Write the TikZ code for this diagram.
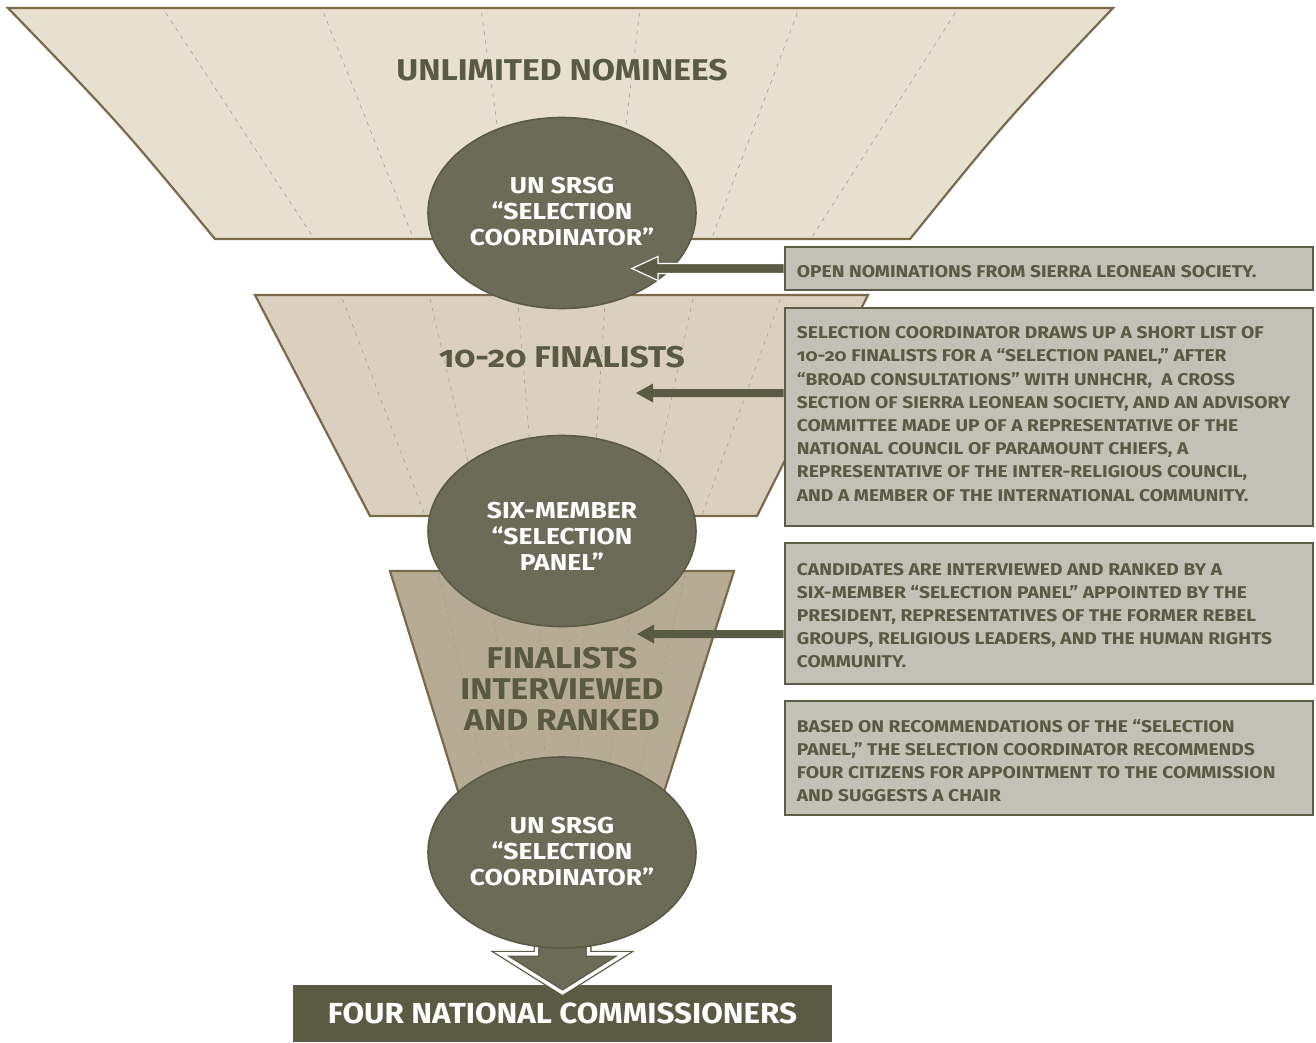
\documentclass[tikz,border=0pt]{standalone}
\usepackage{fontspec}
\setmainfont{Fira Sans}[Numbers=OldStyle]
\newfontfamily\stagefont{Fira Sans}[Numbers=OldStyle,FakeStretch=1.12]
\newfontfamily\ovalfont{Fira Sans}[Numbers=OldStyle,FakeStretch=1.15]
\newfontfamily\finalfont{Fira Sans}[Numbers=OldStyle,FakeStretch=1.08]
\newfontfamily\notefont{Fira Sans}[Numbers=OldStyle,FakeStretch=1.13]
\usetikzlibrary{shapes.geometric,calc}
\definecolor{trapA}{HTML}{E7DFD0}
\definecolor{trapB}{HTML}{D9D0C0}
\definecolor{trapC}{HTML}{B6AB94}
\definecolor{trapline}{HTML}{7B6A48}
\definecolor{guidec}{HTML}{A9A49C}
\definecolor{guidecC}{HTML}{A39EA6}
\definecolor{ovalfill}{HTML}{6B6B57}
\definecolor{ovalline}{HTML}{5A5B45}
\definecolor{olivetext}{HTML}{585A43}
\definecolor{boxfill}{HTML}{C3C0B5}
\definecolor{boxline}{HTML}{5C5D47}
\definecolor{arrowc}{HTML}{5A5B45}
\definecolor{finalfill}{HTML}{5A5B42}
\begin{document}
\begin{tikzpicture}[x=1pt,y=-1pt,
  trap/.style={draw=trapline,line width=2.2pt,line join=miter},
  guide/.style={draw=guidec,line width=0.7pt,dash pattern=on 4pt off 5pt},
  guideC/.style={draw=guidecC,line width=0.7pt,dash pattern=on 4pt off 5pt},
  oval/.style={ellipse,fill=ovalfill,draw=ovalline,line width=1.6pt,minimum width=268pt,minimum height=191pt,inner sep=0pt},
  ovaltext/.style={text=white,font=\ovalfont\bfseries\fontsize{23}{26}\selectfont,align=center,inner sep=0pt},
  stage/.style={text=olivetext,font=\stagefont\bfseries\fontsize{30}{31}\selectfont,align=center,inner sep=0pt},
  notebox/.style={draw=boxline,fill=boxfill,line width=2.6pt,minimum width=528pt,inner sep=0pt},
  notetext/.style={text=olivetext,font=\notefont\bfseries\fontsize{17}{23.2}\selectfont,align=left,inner sep=0pt,anchor=west},
  finalbox/.style={fill=finalfill,minimum width=539pt,minimum height=57pt,inner sep=0pt,text=white,font=\finalfont\bfseries\fontsize{29}{30}\selectfont}
]
\useasboundingbox (0,0) rectangle (1316,1042);

% stage 1 funnel
\path[trap,fill=trapA] (8,8) -- (1113,8) .. controls (1003.5,123.5) .. (910,239) -- (215,239) .. controls (119.5,123.5) .. (8,8) -- cycle;
\foreach \i in {1,...,6} \draw[guide] ({8+\i*157.86},13) -- ({215+\i*99.29},239);
% stage 2 funnel
\path[trap,fill=trapB] (255,295) -- (868,295) -- (757,516) -- (370,516) -- cycle;
\foreach \i in {1,...,6} \draw[guide] ({255+\i*87.57},299) -- ({370+\i*55.29},516);
% stage 3 funnel
\path[trap,fill=trapC] (390,571) -- (734,571) -- (652,830) -- (470,830) -- cycle;
\foreach \i in {1,...,6} \draw[guideC] ({390+\i*49.14},575) -- ({470+\i*26},830);

% stage titles
\node[stage] (s1) at (562,70) {UNLIMITED NOMINEES};
\node[stage] (s2) at (562,357) {10-20 FINALISTS};
\node[stage] (s3) at (562,689) {FINALISTS\\INTERVIEWED\\AND RANKED};

% final box and arrow
\node[finalbox] (fb) at (562.5,1013.5) {FOUR NATIONAL COMMISSIONERS};
\coordinate (dtip) at ($(fb.north)+(0,8)$);
\path[fill=ovalfill,draw=arrowc,line width=6pt,line join=miter,postaction={draw=white,line width=3.4pt,line join=miter}]
  (dtip) -- ++(-62,-39) -- ++(36,0) -- ++(0,-32) -- ++(52,0) -- ++(0,32) -- ++(36,0) -- cycle;

% ovals
\node[oval] (e1) at (562,213) {};
\node[ovaltext] (t1) at ($(e1.center)+(0,-1)$) {UN SRSG\\“SELECTION\\COORDINATOR”};
\node[oval] (e2) at (562,531) {};
\node[ovaltext] (t2) at ($(e2.center)+(0,5)$) {SIX-MEMBER\\“SELECTION\\PANEL”};
\node[oval] (e3) at (562,852.5) {};
\node[ovaltext] (t3) at ($(e3.center)+(0,-1)$) {UN SRSG\\“SELECTION\\COORDINATOR”};

% note boxes
\node[notebox,minimum height=43pt] (b1) at (1049,268.5) {};
\node[notetext] (n1) at ($(b1.west)+(13,3.5)$) {OPEN NOMINATIONS FROM SIERRA LEONEAN SOCIETY.};
\node[notebox,minimum height=218pt] (b2) at (1049,417) {};
\node[notetext] (n2) at ($(b2.west)+(13,-3)$) {SELECTION COORDINATOR DRAWS UP A SHORT LIST OF\\
10-20 FINALISTS FOR A “SELECTION PANEL,” AFTER\\
“BROAD CONSULTATIONS” WITH UNHCHR,~ A CROSS\\
SECTION OF SIERRA LEONEAN SOCIETY, AND AN ADVISORY\\
COMMITTEE MADE UP OF A REPRESENTATIVE OF THE\\
NATIONAL COUNCIL OF PARAMOUNT CHIEFS, A\\
REPRESENTATIVE OF THE INTER-RELIGIOUS COUNCIL,\\
AND A MEMBER OF THE INTERNATIONAL COMMUNITY.};
\node[notebox,minimum height=141pt] (b3) at (1049,613.5) {};
\node[notetext] (n3) at ($(b3.west)+(13,2)$) {CANDIDATES ARE INTERVIEWED AND RANKED BY A\\
SIX-MEMBER “SELECTION PANEL” APPOINTED BY THE\\
PRESIDENT, REPRESENTATIVES OF THE FORMER REBEL\\
GROUPS, RELIGIOUS LEADERS, AND THE HUMAN RIGHTS\\
COMMUNITY.};
\node[notebox,minimum height=114pt] (b4) at (1049,758) {};
\node[notetext] (n4) at ($(b4.west)+(13,2.5)$) {BASED ON RECOMMENDATIONS OF THE “SELECTION\\
PANEL,” THE SELECTION COORDINATOR RECOMMENDS\\
FOUR CITIZENS FOR APPOINTMENT TO THE COMMISSION\\
AND SUGGESTS A CHAIR};

% arrows
\coordinate (a1) at (632,268.5);
\path[fill=arrowc,draw=white,line width=1.2pt,line join=miter]
  ($(b1.west)+(0,-5)$) -- ($(a1)+(26,-5)$) -- ($(a1)+(26,-12)$) -- (a1) -- ($(a1)+(26,12)$) -- ($(a1)+(26,5)$) -- ($(b1.west)+(0,5)$);
\coordinate (a2) at (636,393);
\coordinate (a2s) at (b2.west |- a2);
\fill[arrowc] ($(a2s)+(0,-4)$) -- ($(a2)+(17,-4)$) -- ($(a2)+(17,-9.5)$) -- (a2) -- ($(a2)+(17,9.5)$) -- ($(a2)+(17,4)$) -- ($(a2s)+(0,4)$) -- cycle;
\coordinate (a3) at (637,634);
\coordinate (a3s) at (b3.west |- a3);
\fill[arrowc] ($(a3s)+(0,-4)$) -- ($(a3)+(17,-4)$) -- ($(a3)+(17,-9.5)$) -- (a3) -- ($(a3)+(17,9.5)$) -- ($(a3)+(17,4)$) -- ($(a3s)+(0,4)$) -- cycle;
\end{tikzpicture}
\end{document}
